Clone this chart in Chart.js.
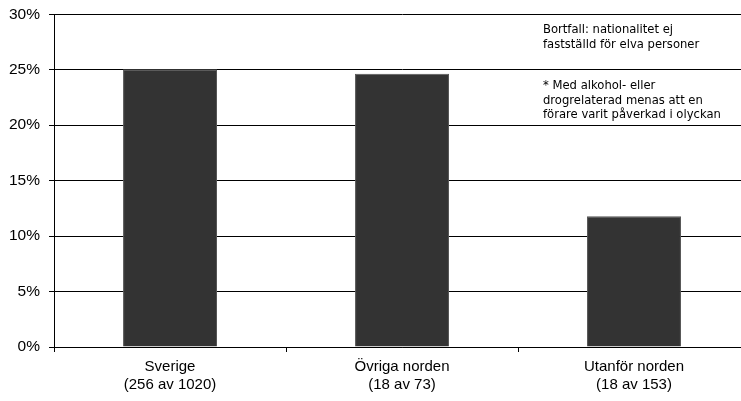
<!DOCTYPE html>
<html lang="sv">
<head>
<meta charset="UTF-8">
<script src="https://cdn.jsdelivr.net/npm/chart.js"></script>
<style>
  html, body { margin: 0; padding: 0; background: #fff; }
  #wrap { width: 741px; height: 401px; overflow: hidden; }
  #myChart { display: block; margin-top: -4px; }
</style>
</head>
<body>
<div id="wrap"><canvas id="myChart" width="750" height="405"></canvas></div>
<script>
    // data
    var kategorier = [['Sverige', '(256 av 1020)'], ['Övriga norden', '(18 av 73)'], ['Utanför norden', '(18 av 153)']];
    var andel = [25.05, 24.65, 11.8];
    var yTicks = [0, 5, 10, 15, 20, 25, 30];
    var noter = [
        ['Bortfall: nationalitet ej', 'fastställd för elva personer'],
        ['* Med alkohol- eller', 'drogrelaterad menas att en', 'förare varit påverkad i olyckan']
    ];

    // notes in the top right corner (canvas is shifted up 4px)
    var noterPlugin = {
        id: 'noter',
        afterDraw: function (chart) {
            var ctx = chart.ctx;
            ctx.save();
            ctx.font = '11.6px "DejaVu Sans"';
            ctx.fillStyle = '#000';
            ctx.textBaseline = 'middle';
            var starts = [34, 90];
            noter.forEach(function (rader, i) {
                rader.forEach(function (rad, j) {
                    ctx.fillText(rad, 543, starts[i] + j * 14.6);
                });
            });
            ctx.restore();
        }
    };

    const ctx = document.getElementById('myChart');

    new Chart(ctx, {
        type: 'bar',
        data: {
            labels: kategorier,
            datasets: [{
                data: andel,
                backgroundColor: '#333333',
                borderColor: '#555555',
                borderWidth: 1,
                categoryPercentage: 1,
                barPercentage: 0.405
            }]
        },
        options: {
            responsive: false,
            animation: false,
            layout: { padding: { left: 0, top: 2, right: 0, bottom: 1 } },
            plugins: { legend: { display: false }, tooltip: { enabled: false } },
            scales: {
                x: {
                    border: { color: '#000', width: 1 },
                    grid: { offset: true, drawOnChartArea: false, drawTicks: true, tickLength: 5, color: '#000' },
                    ticks: { color: '#000', font: { family: '"Liberation Sans"', size: 15 }, padding: 6, maxRotation: 0 }
                },
                y: {
                    min: 0,
                    max: 30,
                    afterBuildTicks: function (axis) {
                        axis.ticks = yTicks.map(function (v) { return { value: v }; });
                    },
                    border: { color: '#000', width: 1 },
                    grid: { color: '#000', tickLength: 5, drawTicks: true },
                    ticks: {
                        color: '#000',
                        font: { family: '"Liberation Sans"', size: 15.5 },
                        padding: 9,
                        callback: function (v) { return v + '%'; }
                    }
                }
            }
        },
        plugins: [noterPlugin]
    });
</script>
</body>
</html>
